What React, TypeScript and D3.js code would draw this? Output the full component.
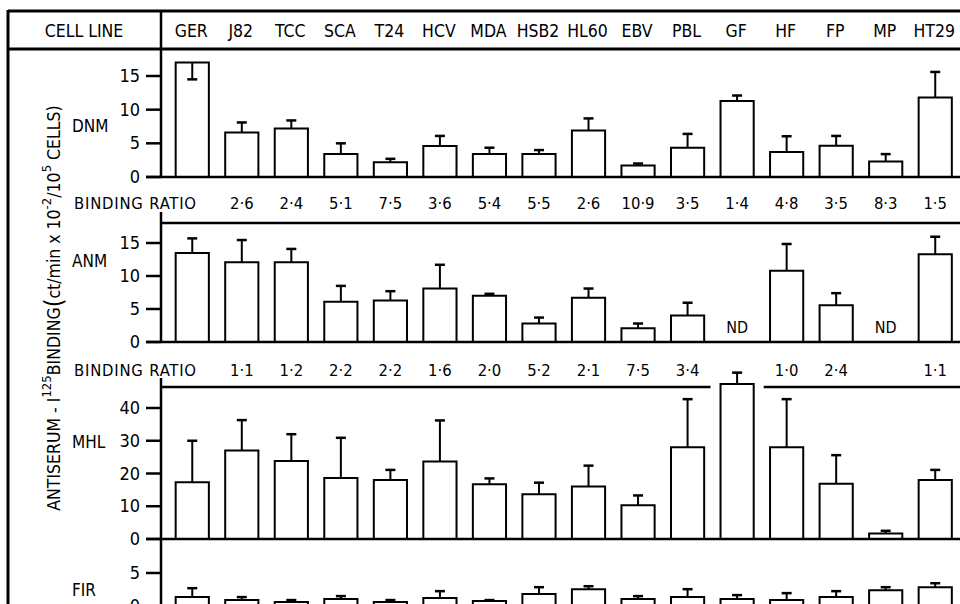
import React from "react";
import * as d3 from "d3";

const cellLines = ["GER","J82","TCC","SCA","T24","HCV","MDA","HSB2","HL60","EBV","PBL","GF","HF","FP","MP","HT29"];

// DNM antiserum
const dnmValues = [17.0, 6.6, 7.2, 3.4, 2.2, 4.6, 3.4, 3.4, 6.9, 1.7, 4.35, 11.3, 3.7, 4.65, 2.3, 11.8];
const dnmErrorEnds = [14.5, 8.1, 8.4, 5.0, 2.7, 6.1, 4.35, 4.0, 8.7, 2.0, 6.4, 12.1, 6.05, 6.1, 3.4, 15.6];
const dnmRatios = ["", "2·6", "2·4", "5·1", "7·5", "3·6", "5·4", "5·5", "2·6", "10·9", "3·5", "1·4", "4·8", "3·5", "8·3", "1·5"];

// ANM antiserum (null = ND)
const anmValues = [13.5, 12.1, 12.1, 6.1, 6.3, 8.1, 7.0, 2.8, 6.7, 2.1, 4.0, null, 10.8, 5.55, null, 13.3];
const anmErrorEnds = [15.7, 15.45, 14.1, 8.5, 7.7, 11.7, 7.3, 3.7, 8.1, 2.8, 5.95, null, 14.85, 7.4, null, 15.95];
const anmRatios = ["", "1·1", "1·2", "2·2", "2·2", "1·6", "2·0", "5·2", "2·1", "7·5", "3·4", "", "1·0", "2·4", "", "1·1"];

// MHL antiserum
const mhlValues = [17.3, 27.0, 23.8, 18.6, 18.0, 23.7, 16.7, 13.7, 16.0, 10.3, 28.0, 47.3, 28.0, 16.9, 1.7, 18.0];
const mhlErrorEnds = [30.0, 36.3, 32.0, 30.9, 21.1, 36.2, 18.5, 17.2, 22.4, 13.3, 42.7, 50.8, 42.7, 25.6, 2.5, 21.1];

// FIR antiserum
const firValues = [1.35, 0.9, 0.6, 1.05, 0.6, 1.2, 0.75, 1.8, 2.55, 1.05, 1.35, 1.05, 0.9, 1.35, 2.4, 2.85];
const firErrorEnds = [2.7, 1.35, 0.9, 1.5, 0.9, 2.25, 0.9, 2.85, 3.0, 1.5, 2.55, 1.65, 1.95, 2.25, 2.85, 3.45];

const dnmTicks = [0, 5, 10, 15];
const anmTicks = [0, 5, 10, 15];
const mhlTicks = [0, 10, 20, 30, 40];
const firTicks = [0, 5];

const FONT = "'Liberation Sans Narrow', 'DejaVu Sans Condensed', 'Roboto Condensed', 'Liberation Sans', sans-serif";

const W = 960;
const H = 604;
const axisX = 161;

const x = d3.scaleBand<string>().domain(cellLines).range([167.5, 960]).paddingInner(0.33).paddingOuter(0.165);

const yDNM = d3.scaleLinear().domain([0, 15]).range([177, 76]);
const yANM = d3.scaleLinear().domain([0, 15]).range([342, 243]);
const yMHL = d3.scaleLinear().domain([0, 40]).range([539, 408]);
const yFIR = d3.scaleLinear().domain([0, 5]).range([606, 573]);

type Scale = d3.ScaleLinear<number, number>;

function Bars({ values, ends, y }: { values: (number | null)[]; ends: (number | null)[]; y: Scale }) {
  const bw = x.bandwidth();
  return (
    <g>
      {cellLines.map((c, i) => {
        const v = values[i];
        const e = ends[i];
        if (v == null) {
          return (
            <text key={c} x={(x(c) as number) + bw / 2} y={y(0) - 9} textAnchor="middle" fontSize={16} fontFamily={FONT}>ND</text>
          );
        }
        const x0 = x(c) as number;
        const cx = x0 + bw / 2;
        const top = y(v);
        const ey = e == null ? top : y(e);
        return (
          <g key={c}>
            <path d={`M${x0},${y(0)}V${top}H${x0 + bw}V${y(0)}`} fill="#fff" stroke="#000" strokeWidth={2} />
            <line x1={cx} x2={cx} y1={top} y2={ey} stroke="#000" strokeWidth={2} />
            <line x1={cx - 5} x2={cx + 5} y1={ey} y2={ey} stroke="#000" strokeWidth={2.5} />
          </g>
        );
      })}
    </g>
  );
}

function Ticks({ ticks, y }: { ticks: number[]; y: Scale }) {
  return (
    <g>
      {ticks.map((t) => (
        <g key={t}>
          <line x1={146} x2={axisX} y1={y(t)} y2={y(t)} stroke="#000" strokeWidth={2.5} />
          <text x={140} y={y(t) + 6} textAnchor="end" fontSize={18} fontFamily={FONT}>{t}</text>
        </g>
      ))}
    </g>
  );
}

function Ratios({ labels, yPos }: { labels: string[]; yPos: number }) {
  return (
    <g>
      <text x={74} y={yPos} fontSize={16.5} fontFamily={FONT} letterSpacing={0.8}>BINDING RATIO</text>
      {cellLines.map((c, i) => (
        <text key={c} x={(x(c) as number) + x.bandwidth() / 2} y={yPos} textAnchor="middle" fontSize={16.5} fontFamily={FONT}>{labels[i]}</text>
      ))}
    </g>
  );
}

export default function App() {
  const gfX = x("GF") as number;
  return (
    <svg width={W} height={H} style={{ position: "absolute", left: 0, top: 0, background: "#fff" }}>
      <rect x={0} y={0} width={W} height={H} fill="#fff" />
      {/* header frame */}
      <line x1={8} x2={W} y1={11} y2={11} stroke="#000" strokeWidth={3} />
      <line x1={8} x2={W} y1={49} y2={49} stroke="#000" strokeWidth={3} />
      <line x1={8} x2={8} y1={10} y2={H} stroke="#000" strokeWidth={3} />
      <line x1={axisX} x2={axisX} y1={11} y2={yDNM(0)} stroke="#000" strokeWidth={2.5} />
      <text x={84} y={37} textAnchor="middle" fontSize={17.5} fontFamily={FONT}>CELL LINE</text>
      {cellLines.map((c) => (
        <text key={c} x={(x(c) as number) + x.bandwidth() / 2 - 1} y={37} textAnchor="middle" fontSize={17.5} fontFamily={FONT}>{c}</text>
      ))}

      {/* y axis title */}
      <text transform="translate(60,308) rotate(-90)" textAnchor="middle" fontSize={17.5} fontFamily={FONT}>
        ANTISERUM - I<tspan dy={-9} fontSize={13}>125</tspan><tspan dy={9}>BINDING</tspan><tspan fontSize={25} dy={2}>(</tspan><tspan dy={-2}>ct/min x 10</tspan><tspan dy={-9} fontSize={13}>-2</tspan><tspan dy={9}>/10</tspan><tspan dy={-9} fontSize={13}>5</tspan><tspan dy={9}> CELLS)</tspan>
      </text>

      {/* DNM panel */}
      <text x={72} y={132} fontSize={17} fontFamily={FONT}>DNM</text>
      <Ticks ticks={dnmTicks} y={yDNM} />
      <Bars values={dnmValues} ends={dnmErrorEnds} y={yDNM} />
      <line x1={146} x2={W} y1={yDNM(0)} y2={yDNM(0)} stroke="#000" strokeWidth={2.5} />
      <Ratios labels={dnmRatios} yPos={209} />

      {/* ANM panel */}
      <line x1={axisX} x2={axisX} y1={212} y2={yANM(0)} stroke="#000" strokeWidth={2.5} />
      <line x1={axisX} x2={W} y1={223} y2={223} stroke="#000" strokeWidth={2.5} />
      <text x={72} y={267} fontSize={17} fontFamily={FONT}>ANM</text>
      <Ticks ticks={anmTicks} y={yANM} />
      <Bars values={anmValues} ends={anmErrorEnds} y={yANM} />
      <line x1={146} x2={W} y1={yANM(0)} y2={yANM(0)} stroke="#000" strokeWidth={2.5} />
      <Ratios labels={anmRatios} yPos={376} />

      {/* MHL panel */}
      <line x1={axisX} x2={axisX} y1={378} y2={H} stroke="#000" strokeWidth={2.5} />
      <line x1={axisX} x2={gfX - 10} y1={387} y2={387} stroke="#000" strokeWidth={2.5} />
      <line x1={gfX + x.bandwidth() + 10} x2={W} y1={387} y2={387} stroke="#000" strokeWidth={2.5} />
      <text x={72} y={448} fontSize={17} fontFamily={FONT}>MHL</text>
      <Ticks ticks={mhlTicks} y={yMHL} />
      <Bars values={mhlValues} ends={mhlErrorEnds} y={yMHL} />
      <line x1={146} x2={W} y1={yMHL(0)} y2={yMHL(0)} stroke="#000" strokeWidth={2.5} />

      {/* FIR panel */}
      <text x={72} y={596} fontSize={17} fontFamily={FONT}>FIR</text>
      <Ticks ticks={firTicks} y={yFIR} />
      <Bars values={firValues} ends={firErrorEnds} y={yFIR} />
    </svg>
  );
}
